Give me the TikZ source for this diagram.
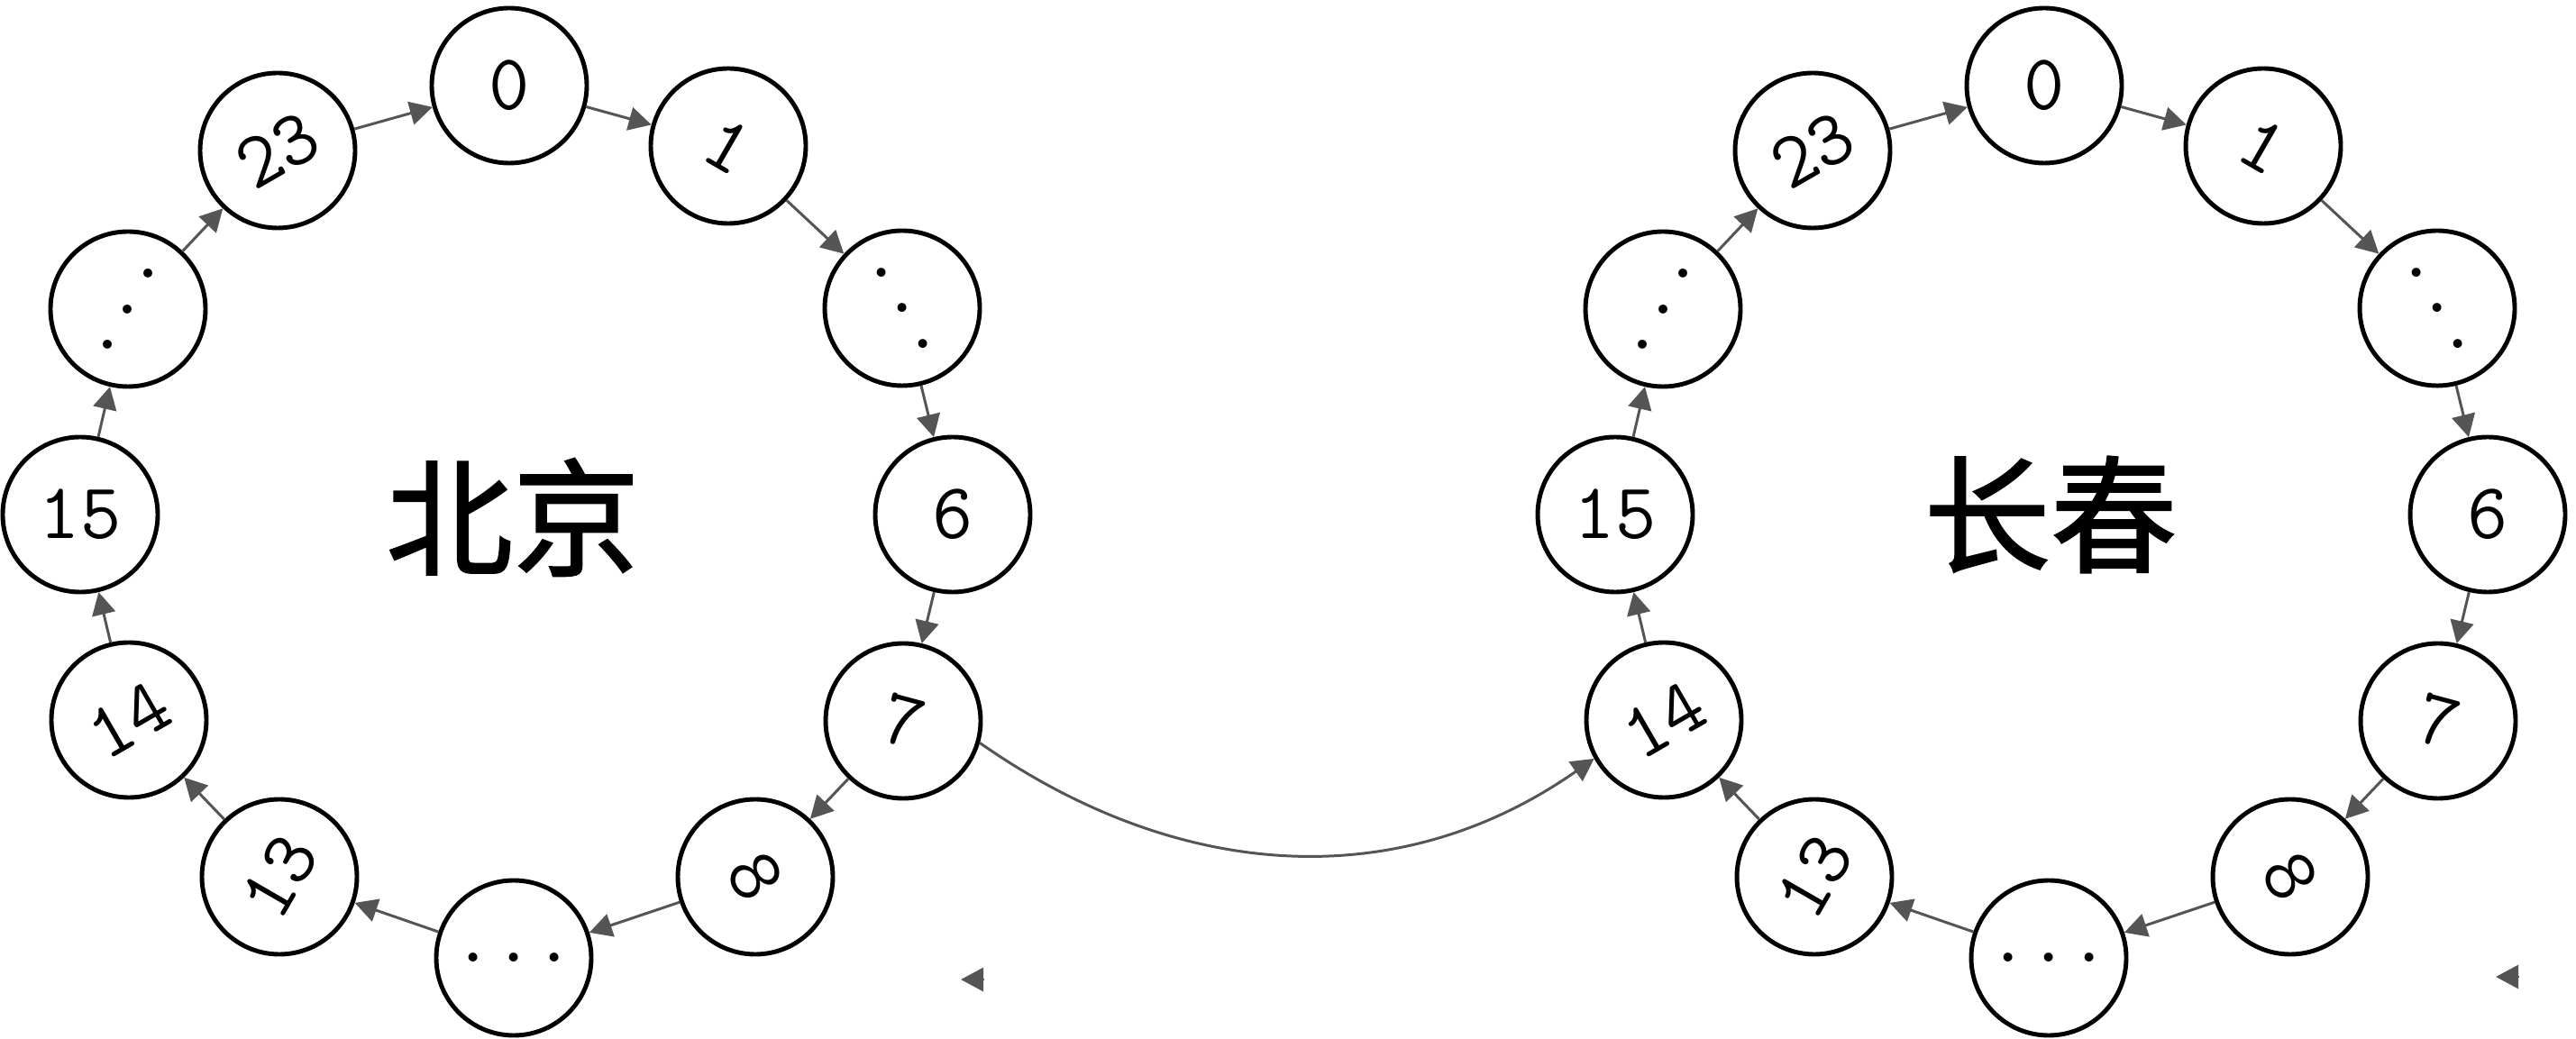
\documentclass[tikz,border=0pt]{standalone}
\usepackage{graphicx}
\usepackage{fontspec}
\newfontfamily\cjk[FakeBold=1.5]{Noto Sans CJK SC}
\usetikzlibrary{arrows.meta}

\newcommand{\skipdots}{...}
\definecolor{linkgray}{HTML}{555555}
\tikzset{
    hour/.style={circle, draw, line width=1.4pt, minimum size=1.72cm, inner sep=0pt,
        font=\ttfamily\fontsize{25}{30}\selectfont},
    link/.style={draw=linkgray, line width=0.85pt, -{Triangle[length=0.25cm, width=0.26cm]}},
    city/.style={font=\cjk\fontsize{40}{48}\selectfont}
}

\begin{document}
\begin{tikzpicture}
    \useasboundingbox (0,0) rectangle (28.58,-11.53);

    % Hour nodes of both rings (clockwise from top)
    \foreach \p/\dx in {b/0, c/17.03} {
        \foreach \i/\x/\y/\r/\t in {0/5.65/-0.95/0/0, 1/8.08/-1.62/-30/1, 2/10.01/-3.42/-60/\skipdots, 3/10.57/-5.71/0/6,
                                   4/10.02/-8.00/-15/7, 5/8.38/-9.73/-60/8, 6/5.70/-10.63/0/\skipdots, 7/3.10/-9.73/60/13,
                                   8/1.43/-7.99/30/14, 9/0.89/-5.71/0/15, 10/1.42/-3.43/60/\skipdots, 11/3.08/-1.67/30/23} {
            \node[hour] (\p\i) at (\x+\dx, \y) {\rotatebox[origin=c]{\r}{\t}};
        }
    }

    % City names
    \node[city] (beijing) at (5.69,-5.74) {北京};
    \node[city] (changchun) at (22.75,-5.71) {长春};

    % Ring edges
    \foreach \p in {b, c} {
        \foreach \i/\j in {0/1, 1/2, 2/3, 3/4, 4/5, 5/6, 6/7, 7/8, 8/9, 9/10, 10/11, 11/0} {
            \draw[link] (\p\i) -- (\p\j);
        }
    }

    % Link between the rings
    \draw[link] (b4.-16) to[out=-35, in=-145] (c8.-151);

    % Loose arrow tips
    \coordinate (bstubA) at (10.92,-10.87);
    \coordinate (bstubB) at (10.66,-10.87);
    \coordinate (cstubA) at (27.95,-10.84);
    \coordinate (cstubB) at (27.69,-10.84);
    \draw[link] (bstubA) -- (bstubB);
    \draw[link] (cstubA) -- (cstubB);
\end{tikzpicture}
\end{document}
